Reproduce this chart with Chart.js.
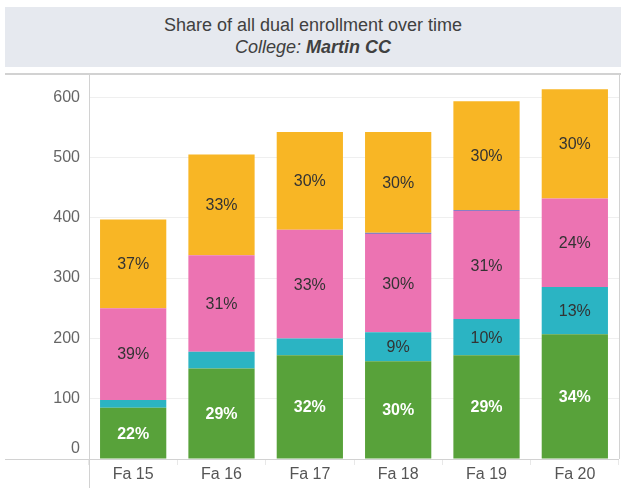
<!DOCTYPE html>
<html>
<head>
<meta charset="utf-8">
<script src="https://cdn.jsdelivr.net/npm/chart.js@4/dist/chart.umd.min.js"></script>
<style>
  body { margin: 0; background: #fff; font-family: "Liberation Sans", Arial, sans-serif; }
  #title {
    position: absolute; left: 5px; top: 7px; width: 616px; height: 60px;
    background: #e6e9ef; color: #404040; text-align: center;
    font-size: 18px; line-height: 22px; box-sizing: border-box; padding-top: 7px;
  }
  #title .sub { font-style: italic; }
  #wrap { position: absolute; left: 5px; top: 73px; width: 616px; height: 415px; }
</style>
</head>
<body>
<div id="title">
  <div>Share of all dual enrollment over time</div>
  <div class="sub">College: <b>Martin CC</b></div>
</div>
<div id="wrap"><canvas id="chart"></canvas></div>
<script>
// categories and tick labels
const terms = ['Fa 15', 'Fa 16', 'Fa 17', 'Fa 18', 'Fa 19', 'Fa 20'];
const yTicks = [0, 100, 200, 300, 400, 500, 600];

// headcount per segment
const greenVals = [85, 150, 172, 162, 172, 207];
const tealVals = [13, 28, 28, 48, 60, 78];
const pinkVals = [152, 160, 180, 163, 179, 147];
const purpleVals = [0, 0, 0, 2, 2, 0];
const yellowVals = [147, 167, 162, 167, 180, 181];

// percent labels shown inside the segments
const greenPct = ['22%', '29%', '32%', '30%', '29%', '34%'];
const tealPct = ['', '', '', '9%', '10%', '13%'];
const pinkPct = ['39%', '31%', '33%', '30%', '31%', '24%'];
const purplePct = ['', '', '', '', '', ''];
const yellowPct = ['37%', '33%', '30%', '30%', '30%', '30%'];

const FONT = '"Liberation Sans", Arial, sans-serif';

// vẽ nhãn phần trăm trong từng đoạn cột
const segLabels = {
    id: 'segLabels',
    afterDatasetsDraw(chart) {
        const ctx = chart.ctx;
        ctx.save();
        ctx.textAlign = 'center';
        ctx.textBaseline = 'middle';
        chart.data.datasets.forEach((ds, i) => {
            const meta = chart.getDatasetMeta(i);
            meta.data.forEach((bar, j) => {
                const txt = ds.pctLabels[j];
                if (!txt) return;
                const p = bar.getProps(['x', 'y', 'base'], true);
                ctx.fillStyle = ds.labelColor;
                ctx.font = (ds.labelBold ? 'bold ' : '') + '16px ' + FONT;
                ctx.fillText(txt, p.x, (p.y + p.base) / 2 + 1);
            });
        });
        ctx.restore();
    }
};

// khung bảng kiểu Tableau + nhãn trục Y
const frame = {
    id: 'frame',
    afterDraw(chart) {
        const ctx = chart.ctx;
        const a = chart.chartArea;
        const ys = chart.scales.y;
        ctx.save();
        ctx.strokeStyle = '#d2d2d2';
        ctx.lineWidth = 1;
        ctx.beginPath();
        ctx.moveTo(0, 0.5); ctx.lineTo(chart.width, 0.5);
        ctx.moveTo(0, 1.5); ctx.lineTo(chart.width, 1.5);
        ctx.moveTo(a.left + 0.5, 0); ctx.lineTo(a.left + 0.5, chart.height);
        ctx.moveTo(a.right + 0.5, 0); ctx.lineTo(a.right + 0.5, a.bottom);
        ctx.moveTo(0, a.bottom + 0.5); ctx.lineTo(a.right, a.bottom + 0.5);
        ctx.stroke();

        ctx.fillStyle = '#666';
        ctx.font = '16px ' + FONT;
        ctx.textAlign = 'right';
        ctx.textBaseline = 'middle';
        yTicks.forEach(v => {
            let y = ys.getPixelForValue(v);
            if (v === 0) y -= 10;
            ctx.fillText(String(v), a.left - 9, y);
        });
        ctx.restore();
    }
};

function makeSet(label, data, color, pct, labelColor, bold) {
    return {
        label: label,
        data: data,
        backgroundColor: color,
        pctLabels: pct,
        labelColor: labelColor,
        labelBold: bold,
        barPercentage: 0.75,
        categoryPercentage: 1
    };
}

new Chart(document.getElementById('chart'), {
    type: 'bar',
    data: {
        labels: terms,
        datasets: [
            makeSet('Group 1', greenVals, '#58a23a', greenPct, '#ffffff', true),
            makeSet('Group 2', tealVals, '#2bb4c3', tealPct, '#333333', false),
            makeSet('Group 3', pinkVals, '#ec73b2', pinkPct, '#333333', false),
            makeSet('Group 4', purpleVals, '#8a7fc5', purplePct, '#333333', false),
            makeSet('Group 5', yellowVals, '#f8b625', yellowPct, '#333333', false)
        ]
    },
    options: {
        responsive: true,
        maintainAspectRatio: false,
        animation: false,
        layout: { padding: { right: 2, top: 0, left: 0, bottom: 0 } },
        plugins: {
            legend: { display: false },
            tooltip: { enabled: false }
        },
        scales: {
            x: {
                stacked: true,
                border: { display: false },
                grid: { drawOnChartArea: false, offset: true, tickLength: 6, color: '#e8e8e8' },
                ticks: { color: '#555', font: { size: 16, family: FONT }, padding: 0 },
                afterFit(scale) { scale.height = 29; }
            },
            y: {
                stacked: true,
                min: 0,
                max: 640,
                border: { display: false },
                grid: { color: '#efefef', drawTicks: false },
                ticks: { display: false },
                afterBuildTicks(scale) { scale.ticks = yTicks.map(v => ({ value: v })); },
                afterFit(scale) { scale.width = 84; }
            }
        }
    },
    plugins: [segLabels, frame]
});
</script>
</body>
</html>
